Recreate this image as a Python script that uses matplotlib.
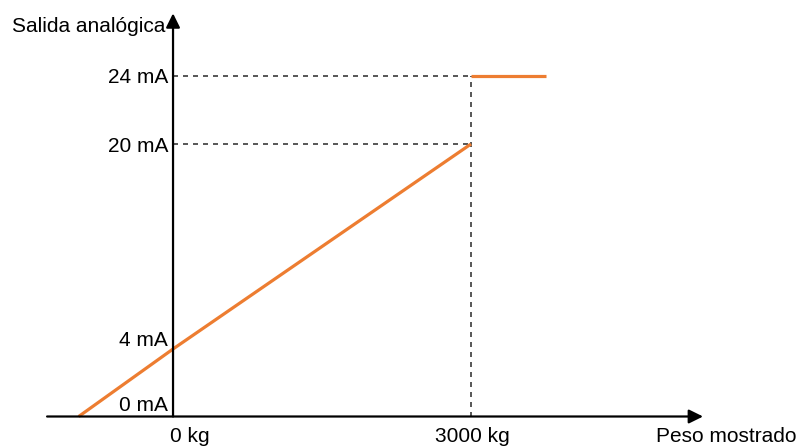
"""Salida analógica vs. peso mostrado (esquema 4-20 mA con saturación a 24 mA)."""

import matplotlib
matplotlib.use("Agg")
import matplotlib.pyplot as plt
import numpy as np

plt.rcParams["font.family"] = ["Liberation Sans", "DejaVu Sans"]

# ---- data -------------------------------------------------------------
weight_kg = [-950, 0, 3000]          # linear part of the output
current_ma = [0, 4, 20]
sat_weight_kg = [3000, 3750]         # overload -> 24 mA
sat_current_ma = [24, 24]

y_ticks_ma = [0, 4, 20, 24]
y_tick_labels = ["0 mA", "4 mA", "20 mA", "24 mA"]
x_ticks_kg = [0, 3000]
x_tick_labels = ["0 kg", "3000 kg"]

ORANGE = "#ED7D31"
DASH = "#3a3a3a"

# schematic (non-linear) vertical scale: mA -> drawing height
_ma_knots = [-10, 0, 4, 20, 24, 40]
_h_knots = [-168.75, 0, 67.5, 272.5, 341, 615]


def fwd(v):
    return np.interp(v, _ma_knots, _h_knots)


def inv(h):
    return np.interp(h, _h_knots, _ma_knots)


fig = plt.figure(figsize=(7.98, 4.47), dpi=100)
ax = fig.add_axes([0, 0, 1, 1])
ax.set_yscale("function", functions=(fwd, inv))
ax.set_xlim(-1742, 6292)
ax.set_ylim(float(inv(-30.5)), float(inv(416.5)))
ax.axis("off")

# guide lines
for lvl in (20, 24):
    ax.plot([0, x_ticks_kg[1]], [lvl, lvl], ls=(0, (3, 3)), lw=1.2,
            color=DASH, zorder=1)
ax.plot([x_ticks_kg[1], x_ticks_kg[1]], [0, 24], ls=(0, (3, 3)), lw=1.2,
        color=DASH, zorder=1)

# signal
ax.plot(weight_kg, current_ma, color=ORANGE, lw=2.3, zorder=3,
        solid_capstyle="butt")
ax.plot(sat_weight_kg, sat_current_ma, color=ORANGE, lw=2.3, zorder=3,
        solid_capstyle="butt")

# axes with arrows
arrow = dict(arrowstyle="-|>,head_length=0.85,head_width=0.42", lw=1.6,
             color="black", shrinkA=0, shrinkB=0)
ax.annotate("", xy=(5336, 0), xytext=(-1268, 0), arrowprops=arrow, zorder=4)
ax.annotate("", xy=(0, 27.63), xytext=(0, 0), arrowprops=arrow, zorder=4)

fs = 15
# y labels
offsets = {0: 5.5, 4: 3.5, 20: -7.5, 24: -7.5}
for v, lab in zip(y_ticks_ma, y_tick_labels):
    ax.annotate(lab, xy=(0, v), xytext=(-5, offsets[v]),
                textcoords="offset pixels", ha="right", va="baseline",
                fontsize=fs)

# x labels
ax.annotate(x_tick_labels[0], xy=(x_ticks_kg[0], 0), xytext=(-3, -26),
            textcoords="offset pixels", ha="left", va="baseline", fontsize=fs)
ax.annotate(x_tick_labels[1], xy=(x_ticks_kg[1], 0), xytext=(1, -26),
            textcoords="offset pixels", ha="center", va="baseline",
            fontsize=fs)

# axis titles
ax.annotate("Peso mostrado", xy=(5336, 0), xytext=(23, -26),
            textcoords="offset pixels", ha="center", va="baseline",
            fontsize=fs)
ax.annotate("Salida analógica", xy=(0, 27.63), xytext=(-8, -19),
            textcoords="offset pixels", ha="right", va="baseline",
            fontsize=fs)

fig.savefig("out.png", dpi=100, facecolor="white")
